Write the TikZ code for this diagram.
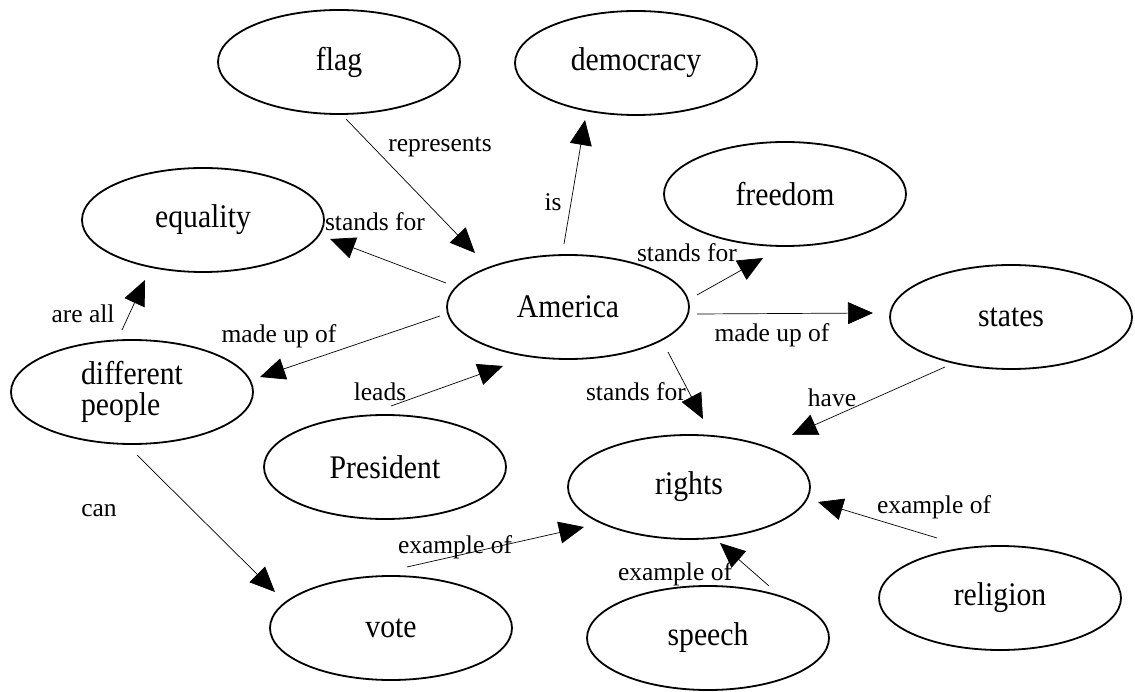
\documentclass[tikz,border=0pt]{standalone}
\usepackage{fontspec}
\setmainfont{Liberation Serif}
\newfontfamily\conceptfont[FakeStretch=0.9]{Liberation Serif}
\usetikzlibrary{arrows.meta,shapes.geometric,calc}
\begin{document}
\begin{tikzpicture}[x=1pt,y=-1pt,
  concept/.style={ellipse,draw,line width=1.8pt,minimum width=242pt,minimum height=104pt,
    inner sep=0pt,font=\conceptfont\fontsize{33}{31}\selectfont},
  link/.style={line width=0.7pt,-{Triangle[length=25pt,width=22pt]}},
  lbl/.style={inner sep=0pt,font=\fontsize{25.5}{27}\selectfont}]
\useasboundingbox (0,0) rectangle (1135,692);

% concepts
\node[concept] (flag)      at (339,62)  {flag};
\node[concept] (democracy) at (636,63)  {democracy};
\node[concept] (equality)  at (203,220) {equality};
\node[concept] (freedom)   at (785,194) {freedom};
\node[concept] (america)   at (568,307) {America};
\node[concept] (states)    at (1011,317) {states};
\node[concept,align=left] (people) at (132,392) {different\\people};
\node[concept] (president) at (385,467) {President};
\node[concept] (rights)    at (689,487) {rights};
\node[concept] (religion)  at (1000,598) {religion};
\node[concept] (speech)    at (708,638) {speech};
\node[concept] (vote)      at (391,628) {vote};

% links
\draw[link] ($(flag)+(7,57)$)        -- ($(america)+(-93,-54)$);
\draw[link] ($(america)+(-4,-63)$)   -- ($(democracy)+(-51,57)$);
\draw[link] ($(america)+(-122,-24)$) -- ($(equality)+(127,19)$);
\draw[link] ($(america)+(129,-12)$)  -- ($(freedom)+(-22,64)$);
\draw[link] ($(america)+(129,7)$)    -- ($(states)+(-138,-4)$);
\draw[link] ($(america)+(-128,9)$)   -- ($(people)+(128,-15)$);
\draw[link] ($(people)+(-10,-62)$)   -- ($(equality)+(-58,60)$);
\draw[link] ($(president)+(6,-61)$)  -- ($(america)+(-65,59)$);
\draw[link] ($(america)+(100,45)$)   -- ($(rights)+(14,-68)$);
\draw[link] ($(states)+(-66,50)$)    -- ($(rights)+(103,-52)$);
\draw[link] ($(people)+(5,63)$)      -- ($(vote)+(-116,-36)$);
\draw[link] ($(vote)+(16,-61)$)      -- ($(rights)+(-105,40)$);
\draw[link] ($(speech)+(61,-52)$)    -- ($(rights)+(31,56)$);
\draw[link] ($(religion)+(-63,-60)$) -- ($(rights)+(129,15)$);

% link labels
\node[lbl] (l-represents) at (440,147) {represents};
\node[lbl] (l-is)         at (553,202) {is};
\node[lbl] (l-equality)   at (375,222) {stands for};
\node[lbl] (l-freedom)    at (687,253) {stands for};
\node[lbl] (l-states)     at (772,335) {made up of};
\node[lbl] (l-people)     at (279,336) {made up of};
\node[lbl] (l-areall)     at (83,314)  {are all};
\node[lbl] (l-leads)      at (380,392) {leads};
\node[lbl] (l-rights)     at (636,392) {stands for};
\node[lbl] (l-have)       at (832,398) {have};
\node[lbl] (l-can)        at (99,511)  {can};
\node[lbl] (l-vote)       at (455,547) {example of};
\node[lbl] (l-speech)     at (675,574) {example of};
\node[lbl] (l-religion)   at (934,507) {example of};
\end{tikzpicture}
\end{document}
